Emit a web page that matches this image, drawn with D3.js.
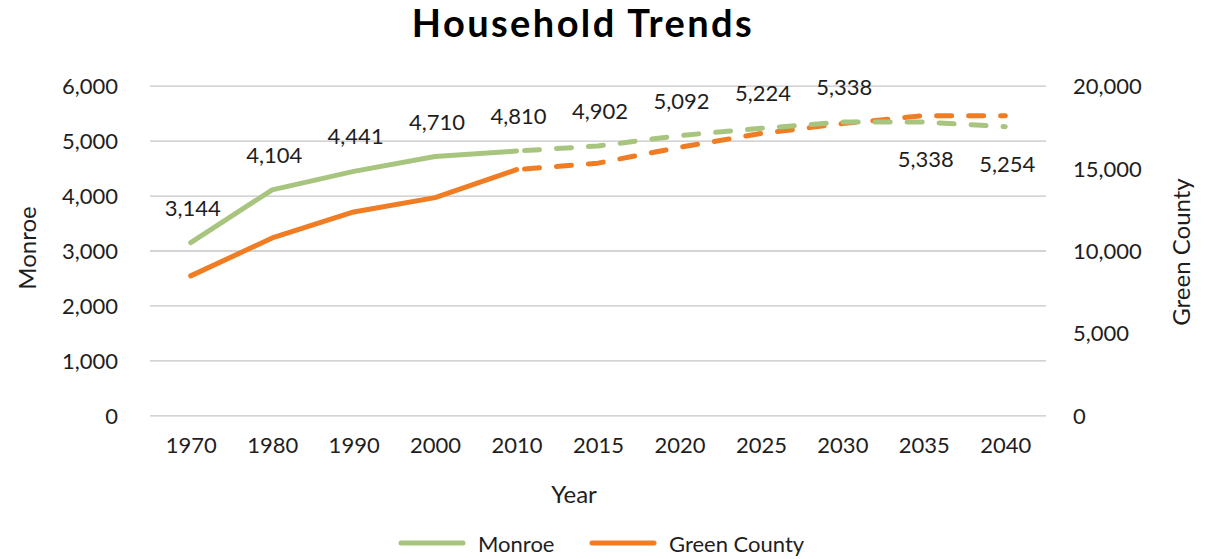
<!DOCTYPE html>
<html>
<head>
<meta charset="utf-8">
<script src="https://cdn.jsdelivr.net/npm/d3@7"></script>
<style>
  html, body { margin: 0; padding: 0; background: #fff; }
  svg { display: block; font-family: Lato, "Open Sans", sans-serif; }
</style>
</head>
<body>
<svg id="chart" width="1210" height="559"></svg>
<script>
// ---- data ----
const years = ["1970","1980","1990","2000","2010","2015","2020","2025","2030","2035","2040"];
const monroe = [3144, 4104, 4441, 4710, 4810, 4902, 5092, 5224, 5338, 5338, 5254];
const greenCounty = [8460, 10760, 12340, 13210, 14910, 15300, 16260, 17100, 17700, 18180, 18180];
const leftTicks = [0, 1000, 2000, 3000, 4000, 5000, 6000];
const rightTicks = [0, 5000, 10000, 15000, 20000];
const lastActualYear = "2010";          // projections (dashed) after this year
const labelsBelow = ["2035", "2040"];   // data labels placed under the line

// ---- layout ----
const W = 1210, H = 559;
const plot = { left: 150, right: 1046, top: 85.7, bottom: 415.3 };
const green = "#A8C580", orange = "#F07C24", grid = "#C6C6C6", textCol = "#1e1e1e";

const svg = d3.select("#chart");

const x = d3.scalePoint().domain(years).range([plot.left, plot.right]).padding(0.5);
const yL = d3.scaleLinear().domain([0, 6000]).range([plot.bottom, plot.top]);
const yR = d3.scaleLinear().domain([0, 20000]).range([plot.bottom, plot.top]);
const fmt = d3.format(",");

// gridlines + left axis
const gL = svg.append("g").attr("transform", `translate(${plot.left},0)`)
  .call(d3.axisLeft(yL).tickValues(leftTicks).tickFormat(fmt)
    .tickSize(-(plot.right - plot.left)).tickPadding(32));
gL.select(".domain").remove();
gL.selectAll(".tick line").attr("stroke", grid).attr("stroke-width", 1.3);
gL.selectAll(".tick text").attr("font-size", 22).attr("fill", textCol)
  .attr("font-family", "Lato, sans-serif").attr("dy", "0.36em");

// right axis
const gR = svg.append("g").attr("transform", `translate(${plot.right},0)`)
  .call(d3.axisRight(yR).tickValues(rightTicks).tickFormat(fmt).tickSize(0).tickPadding(27));
gR.select(".domain").remove();
gR.selectAll(".tick text").attr("font-size", 22).attr("fill", textCol)
  .attr("font-family", "Lato, sans-serif").attr("dy", "0.36em");

// x axis
const gX = svg.append("g").attr("transform", `translate(0,${plot.bottom})`)
  .call(d3.axisBottom(x).tickSize(0).tickPadding(22));
gX.select(".domain").remove();
gX.selectAll(".tick text").attr("font-size", 22).attr("fill", textCol)
  .attr("font-family", "Lato, sans-serif");

// titles
svg.append("text").attr("x", 583).attr("y", 37).attr("text-anchor", "middle")
  .attr("font-size", 38).attr("font-weight", 700).attr("letter-spacing", 2.4).attr("fill", "#000")
  .text("Household Trends");
svg.append("text").attr("x", 574).attr("y", 503).attr("text-anchor", "middle")
  .attr("font-size", 24).attr("fill", textCol).text("Year");
svg.append("text").attr("transform", "translate(36,248) rotate(-90)")
  .attr("text-anchor", "middle").attr("font-size", 24).attr("fill", textCol).text("Monroe");
svg.append("text").attr("transform", "translate(1190,252) rotate(-90)")
  .attr("text-anchor", "middle").attr("font-size", 24).attr("fill", textCol).text("Green County");

// lines
const splitIdx = years.indexOf(lastActualYear);
function drawSeries(vals, yScale, color) {
  const pts = vals.map((v, i) => [x(years[i]), yScale(v)]);
  const line = d3.line();
  svg.append("path").attr("d", line(pts.slice(0, splitIdx + 1)))
    .attr("fill", "none").attr("stroke", color).attr("stroke-width", 5)
    .attr("stroke-linecap", "round").attr("stroke-linejoin", "round");
  svg.append("path").attr("d", line(pts.slice(splitIdx)))
    .attr("fill", "none").attr("stroke", color).attr("stroke-width", 5)
    .attr("stroke-linecap", "round").attr("stroke-linejoin", "round")
    .attr("stroke-dasharray", "15,17").attr("stroke-dashoffset", -8);
}
drawSeries(greenCounty, yR, orange);
drawSeries(monroe, yL, green);

// data labels for Monroe
svg.append("g").selectAll("text").data(monroe).join("text")
  .attr("x", (d, i) => x(years[i]) + 2)
  .attr("y", (d, i) => labelsBelow.includes(years[i]) ? yL(d) + 45 : yL(d) - 27)
  .attr("text-anchor", "middle").attr("font-size", 22).attr("fill", textCol)
  .text(d => fmt(d));

// legend
const legend = [{ name: "Monroe", color: green, x: 401 }, { name: "Green County", color: orange, x: 592 }];
const lg = svg.append("g").selectAll("g").data(legend).join("g")
  .attr("transform", d => `translate(${d.x},543)`);
lg.append("line").attr("x1", 0).attr("x2", 62).attr("stroke", d => d.color)
  .attr("stroke-width", 5).attr("stroke-linecap", "round");
lg.append("text").attr("x", 77).attr("y", 9).attr("font-size", 22).attr("fill", textCol)
  .text(d => d.name);
</script>
</body>
</html>
